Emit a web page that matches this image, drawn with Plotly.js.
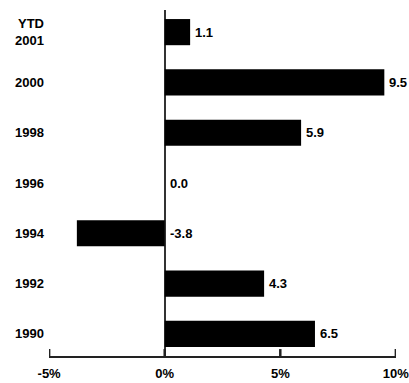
<!DOCTYPE html>
<html>
<head>
<meta charset="utf-8">
<script src="https://cdn.plot.ly/plotly-3.0.1.min.js"></script>
<style>html,body{margin:0;padding:0;background:#fff;}#chart{width:409px;height:383px;}</style>
</head>
<body>
<div id="chart"></div>
<script>
var categories = ["1990", "1992", "1994", "1996", "1998", "2000", "YTD<br>2001"];
var values = [6.5, 4.3, -3.8, 0.0, 5.9, 9.5, 1.1];
var valueLabels = ["6.5", "4.3", "-3.8", "0.0", "5.9", "9.5", "1.1"];
var xTickVals = [-5, 0, 5, 10];
var xTickText = ["-5%", "0%", "5%", "10%"];

var FONT = "'Liberation Sans Narrow', 'Liberation Sans', Arial, sans-serif";

var trace = {
  type: "bar",
  orientation: "h",
  x: values,
  y: categories,
  marker: {color: "#000000", line: {width: 0}},
  width: 0.52,
  hoverinfo: "none"
};

var annotations = values.map(function (v, i) {
  return {
    x: Math.max(v, 0),
    y: i,
    xref: "x", yref: "y",
    text: "<b>" + valueLabels[i] + "</b>",
    showarrow: false,
    xanchor: "left",
    xshift: 3,
    font: {family: FONT, size: 13, color: "#000"}
  };
});

// tick marks pointing up from the x-axis line, one per tick value
var tickShapes = xTickVals.map(function (t) {
  return {
    type: "line", xref: "x", yref: "paper",
    x0: t, x1: t, y0: 0, y1: 0.02,
    line: {color: "#222", width: 2.5},
    layer: "above"
  };
});

var layout = {
  width: 409, height: 383,
  margin: {l: 49, r: 13, t: 10, b: 27},
  paper_bgcolor: "#fff", plot_bgcolor: "#fff",
  showlegend: false,
  font: {family: FONT, size: 13, color: "#000"},
  xaxis: {
    range: [-5.005, 10.005],
    tickvals: xTickVals,
    ticktext: xTickText.map(function (t) { return "<b>" + t + "</b>"; }),
    ticks: "",
    showline: true, linecolor: "#222", linewidth: 2,
    showgrid: false,
    zeroline: true, zerolinecolor: "#333", zerolinewidth: 2,
    ticklabelstandoff: 4,
    ticklabeloverflow: "allow",
    tickfont: {family: FONT, size: 13, color: "#000"},
    fixedrange: true
  },
  yaxis: {
    type: "category",
    categoryorder: "array",
    categoryarray: categories,
    range: [-0.44, 6.44],
    tickvals: categories,
    ticktext: categories.map(function (c) { return "<b>" + c + "</b>"; }),
    ticks: "", showline: false, showgrid: false, zeroline: false,
    ticklabelstandoff: 4,
    tickfont: {family: FONT, size: 13, color: "#000"},
    fixedrange: true
  },
  shapes: tickShapes,
  annotations: annotations
};

Plotly.newPlot("chart", [trace], layout, {displayModeBar: false, staticPlot: true});
</script>
</body>
</html>
